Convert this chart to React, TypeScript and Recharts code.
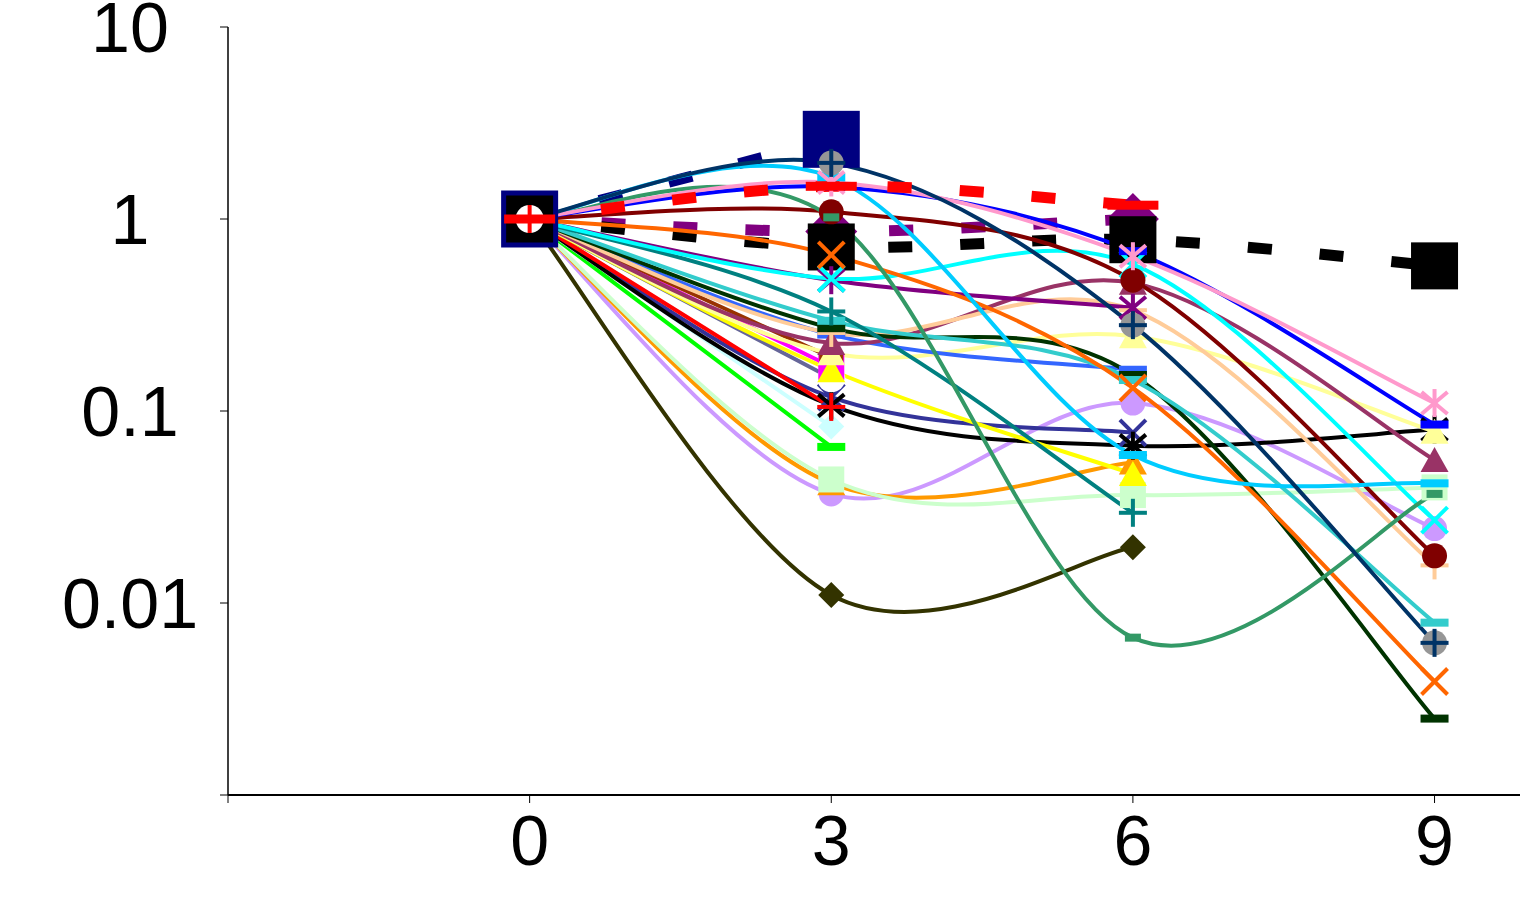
import React from 'react';
import { LineChart, Line, XAxis, YAxis } from 'recharts';

// time points
const xs = [0, 3, 6, 9];

// relative values per series (null = not measured)
const navyDash = [1, 2.6, null, null];
const purpleDash = [1, 0.86, 1.0, null];
const blackDash = [1, 0.715, 0.78, 0.57];
const redDash = [1, 1.48, 1.18, null];
const pink = [1, 1.55, 0.64, 0.11];
const blue = [1, 1.47, 0.68, 0.085];
const darkNavy = [1, 1.96, 0.28, 0.0062];
const skyBlue = [1, 1.65, 0.059, 0.042];
const seaGreen = [1, 1.02, 0.0066, 0.037];
const darkRed = [1, 1.09, 0.48, 0.0176];
const orange = [1, 0.65, 0.132, 0.0039];
const cyan = [1, 0.49, 0.58, 0.027];
const purple = [1, 0.48, 0.345, null];
const teal = [1, 0.33, 0.0295, null];
const turquoise = [1, 0.295, 0.145, 0.0079];
const darkGreen = [1, 0.27, 0.154, 0.0025];
const royalBlue = [1, 0.25, 0.164, null];
const peach = [1, 0.255, 0.335, 0.0157];
const lightYellow = [1, 0.2, 0.245, 0.078];
const plum = [1, 0.226, 0.465, 0.0555];
const brown = [1, 0.19, null, null];
const magenta = [1, 0.17, null, null];
const yellow = [1, 0.163, 0.047, null];
const slate = [1, 0.148, null, null];
const slateBlue = [1, 0.118, 0.077, null];
const black = [1, 0.107, 0.066, 0.08];
const red = [1, 0.105, null, null];
const lightCyan = [1, 0.083, null, null];
const green = [1, 0.065, null, null];
const mint = [1, 0.044, 0.0365, 0.04];
const amber = [1, 0.042, 0.054, null];
const lavender = [1, 0.037, 0.11, 0.0244];
const olive = [1, 0.011, 0.0195, null];

const xTicks = [-3, 0, 3, 6, 9];
const yTicks = [0.001, 0.01, 0.1, 1, 10];

type Kind =
  | 'square' | 'circle' | 'whiteCircle' | 'triangle' | 'diamond'
  | 'x' | 'asterisk' | 'plus' | 'bar' | 'circlePlus';

interface S {
  key: string;
  values: (number | null)[];
  color: string;
  marker: Kind;
  size?: number;
  dashed?: boolean;
  showFirst?: boolean;
}

const series: S[] = [
  { key: 'navyDash', values: navyDash, color: '#000080', marker: 'square', size: 57, dashed: true, showFirst: true },
  { key: 'purpleDash', values: purpleDash, color: '#800080', marker: 'diamond', size: 52, dashed: true },
  { key: 'blackDash', values: blackDash, color: '#000000', marker: 'square', size: 47, dashed: true, showFirst: true },
  { key: 'olive', values: olive, color: '#333300', marker: 'diamond' },
  { key: 'lavender', values: lavender, color: '#CC99FF', marker: 'circle' },
  { key: 'amber', values: amber, color: '#FF9900', marker: 'triangle' },
  { key: 'mint', values: mint, color: '#CCFFCC', marker: 'square' },
  { key: 'green', values: green, color: '#00FF00', marker: 'bar' },
  { key: 'lightCyan', values: lightCyan, color: '#CCFFFF', marker: 'diamond' },
  { key: 'slateBlue', values: slateBlue, color: '#333399', marker: 'x' },
  { key: 'black', values: black, color: '#000000', marker: 'asterisk' },
  { key: 'slate', values: slate, color: '#666699', marker: 'whiteCircle', showFirst: true },
  { key: 'red', values: red, color: '#FF0000', marker: 'plus', showFirst: true },
  { key: 'magenta', values: magenta, color: '#FF00FF', marker: 'square' },
  { key: 'yellow', values: yellow, color: '#FFFF00', marker: 'triangle' },
  { key: 'brown', values: brown, color: '#993300', marker: 'bar', size: 24 },
  { key: 'lightYellow', values: lightYellow, color: '#FFFF99', marker: 'triangle' },
  { key: 'royalBlue', values: royalBlue, color: '#3366FF', marker: 'bar' },
  { key: 'plum', values: plum, color: '#993366', marker: 'triangle' },
  { key: 'peach', values: peach, color: '#FFCC99', marker: 'plus' },
  { key: 'darkGreen', values: darkGreen, color: '#003300', marker: 'bar' },
  { key: 'turquoise', values: turquoise, color: '#33CCCC', marker: 'bar' },
  { key: 'teal', values: teal, color: '#008080', marker: 'plus' },
  { key: 'purple', values: purple, color: '#800080', marker: 'asterisk' },
  { key: 'cyan', values: cyan, color: '#00FFFF', marker: 'x' },
  { key: 'orange', values: orange, color: '#FF6600', marker: 'x' },
  { key: 'darkRed', values: darkRed, color: '#800000', marker: 'circle' },
  { key: 'seaGreen', values: seaGreen, color: '#339966', marker: 'bar', size: 16 },
  { key: 'skyBlue', values: skyBlue, color: '#00CCFF', marker: 'bar' },
  { key: 'blue', values: blue, color: '#0000FF', marker: 'bar' },
  { key: 'pink', values: pink, color: '#FF99CC', marker: 'asterisk' },
  { key: 'darkNavy', values: darkNavy, color: '#003366', marker: 'circlePlus' },
  { key: 'redDash', values: redDash, color: '#FF0000', marker: 'bar', size: 51, dashed: true, showFirst: true },
];

const data = xs.map((x, i) => {
  const row: Record<string, number | null> = { x };
  series.forEach((s) => {
    row[s.key] = s.values[i];
  });
  return row;
});

// smoothed line like the spreadsheet one (catmull-rom through the points)
const smooth = (context: any) => {
  let pts: number[][] = [];
  return {
    areaStart() {},
    areaEnd() {},
    lineStart() {
      pts = [];
    },
    point(x: number, y: number) {
      pts.push([+x, +y]);
    },
    lineEnd() {
      const n = pts.length;
      if (!n) return;
      context.moveTo(pts[0][0], pts[0][1]);
      if (n === 1) {
        context.lineTo(pts[0][0], pts[0][1]);
        return;
      }
      for (let i = 0; i < n - 1; i++) {
        const p0 = pts[Math.max(i - 1, 0)];
        const p1 = pts[i];
        const p2 = pts[i + 1];
        const p3 = pts[Math.min(i + 2, n - 1)];
        context.bezierCurveTo(
          p1[0] + (p2[0] - p0[0]) / 6,
          p1[1] + (p2[1] - p0[1]) / 6,
          p2[0] - (p3[0] - p1[0]) / 6,
          p2[1] - (p3[1] - p1[1]) / 6,
          p2[0],
          p2[1]
        );
      }
    },
  };
};

const marker = (s: S) => (props: any) => {
  const { cx, cy, index, value } = props;
  const k = `${s.key}-${index}`;
  if (cx == null || cy == null || value == null) return <g key={k} />;
  if (index === 0 && !s.showFirst) return <g key={k} />;
  const c = s.color;
  switch (s.marker) {
    case 'square': {
      const z = s.size ?? 26;
      return <rect key={k} x={cx - z / 2} y={cy - z / 2} width={z} height={z} fill={c} />;
    }
    case 'circle':
      return <circle key={k} cx={cx} cy={cy} r={12.5} fill={c} />;
    case 'whiteCircle':
      return <circle key={k} cx={cx} cy={cy} r={14} fill='#FFFFFF' />;
    case 'triangle':
      return (
        <polygon
          key={k}
          points={`${cx},${cy - 13} ${cx + 14},${cy + 12} ${cx - 14},${cy + 12}`}
          fill={c}
        />
      );
    case 'diamond': {
      const h = (s.size ?? 26) / 2;
      return (
        <polygon
          key={k}
          points={`${cx},${cy - h} ${cx + h},${cy} ${cx},${cy + h} ${cx - h},${cy}`}
          fill={c}
        />
      );
    }
    case 'x':
      return (
        <g key={k} stroke={c} strokeWidth={4}>
          <line x1={cx - 13} y1={cy - 13} x2={cx + 13} y2={cy + 13} />
          <line x1={cx - 13} y1={cy + 13} x2={cx + 13} y2={cy - 13} />
        </g>
      );
    case 'asterisk':
      return (
        <g key={k} stroke={c} strokeWidth={4}>
          <line x1={cx - 13} y1={cy - 11} x2={cx + 13} y2={cy + 11} />
          <line x1={cx - 13} y1={cy + 11} x2={cx + 13} y2={cy - 11} />
          <line x1={cx} y1={cy - 14} x2={cx} y2={cy + 14} />
        </g>
      );
    case 'plus':
      return (
        <g key={k} stroke={c} strokeWidth={4}>
          <line x1={cx - 14} y1={cy} x2={cx + 14} y2={cy} />
          <line x1={cx} y1={cy - 14} x2={cx} y2={cy + 14} />
        </g>
      );
    case 'bar': {
      const w = s.size ?? 28;
      const h = w > 40 ? 9 : 8;
      return <rect key={k} x={cx - w / 2} y={cy - h / 2} width={w} height={h} fill={c} />;
    }
    case 'circlePlus':
      return (
        <g key={k}>
          <circle cx={cx} cy={cy} r={12.5} fill='#969696' />
          <g stroke={c} strokeWidth={4}>
            <line x1={cx - 14} y1={cy} x2={cx + 14} y2={cy} />
            <line x1={cx} y1={cy - 14} x2={cx} y2={cy + 14} />
          </g>
        </g>
      );
    default:
      return <g key={k} />;
  }
};

const font = 'Liberation Sans, Arial, sans-serif';

const XTick = (props: any) => {
  const { x, payload } = props;
  if (payload.value === -3) return <g />;
  return (
    <text x={x} y={865} textAnchor='middle' fontFamily={font} fontSize={70} fill='#000'>
      {payload.value}
    </text>
  );
};

const YTick = (props: any) => {
  const { y, payload } = props;
  if (payload.value === 0.001) return <g />;
  return (
    <text x={130} y={y + 25} textAnchor='middle' fontFamily={font} fontSize={70} fill='#000'>
      {String(payload.value)}
    </text>
  );
};

export default function App() {
  return (
    <div style={{ position: 'absolute', left: 0, top: 0, background: '#fff' }}>
      <LineChart width={1521} height={900} data={data} margin={{ top: 27, right: 1, bottom: 0, left: 0 }}>
        <XAxis
          type='number'
          dataKey='x'
          domain={[-3, 9.85]}
          ticks={xTicks}
          interval={0}
          allowDataOverflow
          height={105}
          tickSize={8}
          tick={XTick}
          axisLine={{ stroke: '#000', strokeWidth: 2 }}
          tickLine={{ stroke: '#000', strokeWidth: 1 }}
        />
        <YAxis
          scale='log'
          domain={[0.001, 10]}
          ticks={yTicks}
          interval={0}
          allowDataOverflow
          width={228}
          tickSize={8}
          tick={YTick}
          axisLine={{ stroke: '#000', strokeWidth: 1.5 }}
          tickLine={{ stroke: '#000', strokeWidth: 1 }}
        />
        {series.map((s) => (
          <Line
            key={s.key}
            dataKey={s.key}
            type={smooth as any}
            stroke={s.color}
            strokeWidth={s.dashed ? 11 : 4}
            strokeDasharray={s.dashed ? '24 48' : undefined}
            dot={marker(s)}
            activeDot={false}
            isAnimationActive={false}
          />
        ))}
      </LineChart>
    </div>
  );
}
